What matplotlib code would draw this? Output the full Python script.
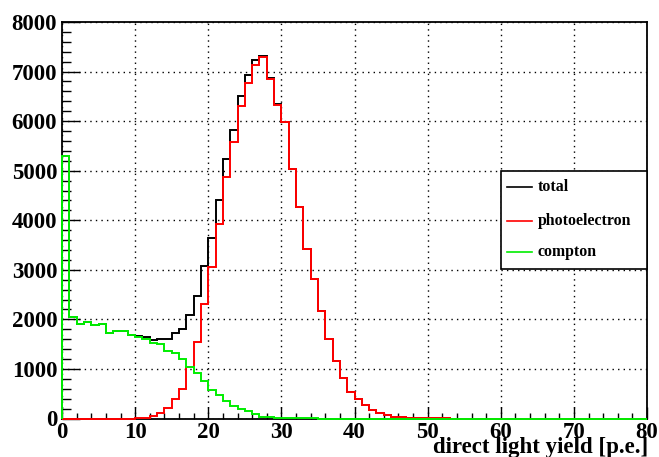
import numpy as np
import matplotlib
matplotlib.use("Agg")
import matplotlib.pyplot as plt
from matplotlib.patches import Rectangle
from matplotlib.lines import Line2D
from matplotlib.ticker import MultipleLocator

# histogram: 80 bins of width 1 from 0 to 80
edges = np.arange(0, 81, 1)

# compton part (bins 0..)
compton = [5300, 2055, 1915, 1940, 1880, 1900, 1735, 1770, 1760, 1680,
           1650, 1610, 1530, 1500, 1370, 1330, 1195, 1045, 925, 750,
           575, 475, 350, 258, 195, 150, 90, 35, 30, 16,
           10, 6, 4, 2, 1]

# photoelectron part
photo = [0, 0, 0, 0, 0, 0, 0, 0, 0, 0,
         2, 20, 60, 104, 215, 395, 590, 1030, 1544, 2311,
         3055, 3920, 4874, 5574, 6313, 6771, 7134, 7296, 6840, 6330,
         5980, 5032, 4258, 3418, 2809, 2176, 1598, 1154, 817, 535,
         387, 266, 172, 105, 64, 37, 24, 15, 8, 5,
         3, 2, 1]

# total
total = [5300, 2055, 1915, 1940, 1880, 1900, 1735, 1770, 1760, 1680,
         1665, 1651, 1584, 1611, 1611, 1732, 1813, 2080, 2472, 3070,
         3645, 4400, 5237, 5829, 6515, 6932, 7229, 7322, 6866, 6341,
         5990, 5038, 4262, 3420, 2810, 2177, 1598, 1155, 817, 535,
         387, 266, 172, 105, 64, 37, 24, 15, 8, 5,
         3, 2, 1]

labels = ["total", "photoelectron", "compton"]
colors = ["black", "#ff0000", "#00ee00"]


def pad80(vals):
    return np.array(list(vals) + [0] * (80 - len(vals)), dtype=float)


plt.rcParams['font.family'] = 'Liberation Serif'
plt.rcParams['font.weight'] = 'bold'

W, H = 659, 457
fig = plt.figure(figsize=(W / 100, H / 100), dpi=100)
ax = fig.add_axes([62 / W, 1 - 418.5 / H, (647 - 62) / W, (418.5 - 22) / H])

for vals, c in zip([total, photo, compton], colors):
    ax.stairs(pad80(vals), edges, color=c, lw=1.4, zorder=3, clip_on=False)

ax.set_xlim(0, 80)
ax.set_ylim(0, 8000)
ax.xaxis.set_major_locator(MultipleLocator(10))
ax.xaxis.set_minor_locator(MultipleLocator(2))
ax.yaxis.set_major_locator(MultipleLocator(1000))
ax.yaxis.set_minor_locator(MultipleLocator(200))
ax.grid(True, which='major', color='black', linestyle=(0, (1, 3)), lw=1)
ax.set_axisbelow(True)

ax.tick_params(axis='y', which='major', direction='in', length=13, width=1,
               labelsize=16.5, pad=3.5)
ax.tick_params(axis='y', which='minor', direction='in', length=6.5, width=1)
ax.tick_params(axis='x', which='major', direction='in', length=8.6, width=1,
               labelsize=16.5, pad=2.5)
ax.tick_params(axis='x', which='minor', direction='in', length=4.3, width=1)
for lab in ax.get_xticklabels() + ax.get_yticklabels():
    lab.set_fontweight('bold')
for sp in ax.spines.values():
    sp.set_linewidth(1.3)

fig.text(648 / W, 1 - 453 / H, "direct light yield [p.e.]", ha='right',
         va='baseline', fontsize=16.5, fontweight='bold')

# legend box drawn in figure pixels
def fx(px):
    return px / W


def fy(py):
    return 1 - py / H


fig.add_artist(Rectangle((fx(501.3), fy(269.3)), fx(647.3) - fx(501.3),
                         fy(170.7) - fy(269.3), transform=fig.transFigure,
                         facecolor='white', edgecolor='black', lw=1.2,
                         zorder=5))
for lab, c, yy in zip(labels, colors, [186.7, 220.7, 252.3]):
    fig.add_artist(Line2D([fx(506.7), fx(532.3)], [fy(yy), fy(yy)],
                          transform=fig.transFigure, color=c, lw=1.2,
                          zorder=6))
    fig.text(fx(537.7), fy(yy), lab, ha='left', va='center', fontsize=11.4,
             fontweight='bold', zorder=6)

fig.savefig("out.png", dpi=100)
